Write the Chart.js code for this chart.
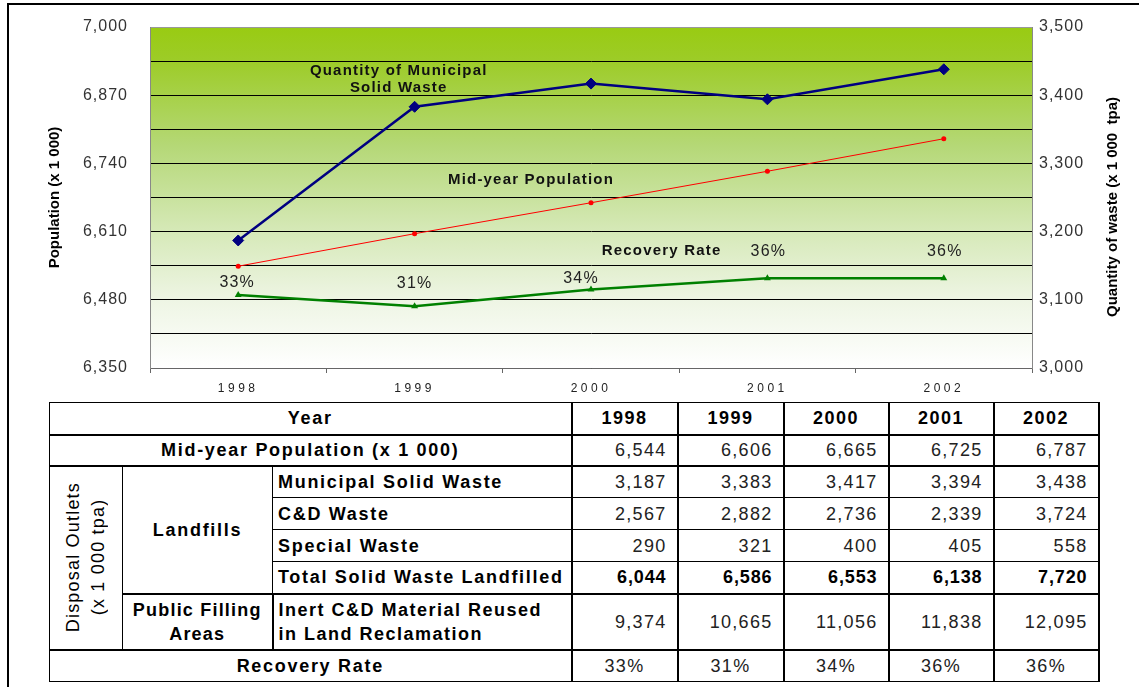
<!DOCTYPE html>
<html>
<head>
<meta charset="utf-8">
<script src="https://cdn.jsdelivr.net/npm/chart.js@4.4.1/dist/chart.umd.min.js"></script>
<style>
html,body{margin:0;padding:0;background:#fff;}
body{width:1139px;height:687px;position:relative;overflow:hidden;font-family:"Liberation Sans",Arial,sans-serif;}
#frame{position:absolute;left:7px;top:3px;width:1200px;height:800px;border-top:2px solid #000;border-left:2px solid #000;}
#chartBox{position:absolute;left:0;top:0;width:1139px;height:400px;}
#tbl{position:absolute;left:49px;top:402px;border-collapse:collapse;table-layout:fixed;width:1049px;color:#000;}
#tbl td{border:1px solid #000;padding:0;font-size:18px;letter-spacing:1.7px;line-height:20px;overflow:hidden;white-space:nowrap;}
#tbl td.b{font-weight:bold;}
#tbl td.c{text-align:center;}
#tbl td.l{text-align:left;padding-left:5px;}
#tbl td.n{text-align:right;padding-right:10px;color:#222;letter-spacing:1.3px;border-left:2px solid #000;border-right:2px solid #000;}
#tbl td.nb{font-weight:bold;color:#000;letter-spacing:0.9px;}
#tbl td.nc{text-align:center;padding-right:0;}
#tbl td.yr{text-align:center;font-weight:bold;letter-spacing:1.5px;border-left:2px solid #000;border-right:2px solid #000;}
#tbl tr.tb td{border-bottom:2px solid #000;}
#tbl td.rot div{writing-mode:vertical-rl;transform:rotate(180deg);margin:0 auto;text-align:center;line-height:25px;letter-spacing:1.2px;}
</style>
</head>
<body>
<div id="frame"></div>
<div id="chartBox"><canvas id="c"></canvas></div>
<table id="tbl">
<colgroup>
<col style="width:73px"><col style="width:150px"><col style="width:299px">
<col style="width:106px"><col style="width:106px"><col style="width:105px"><col style="width:105px"><col style="width:105px">
</colgroup>
<tbody id="tb"></tbody>
</table>
<script>
// ---------- data ----------
const years = ['1998', '1999', '2000', '2001', '2002'];
const population = [6544, 6606, 6665, 6725, 6787];
const mswQuantity = [3187, 3383, 3417, 3394, 3438];
const cdWaste = [2567, 2882, 2736, 2339, 3724];
const specialWaste = [290, 321, 400, 405, 558];
const totalLandfilled = [6044, 6586, 6553, 6138, 7720];
const inertReused = [9374, 10665, 11056, 11838, 12095];
const recoveryRate = [33, 31, 34, 36, 36];
const populationTicks = [6350, 6480, 6610, 6740, 6870, 7000];
const wasteTicks = [3000, 3100, 3200, 3300, 3400, 3500];

const fmt = v => Number(v).toLocaleString('en-US');

// ---------- table ----------
(function buildTable(){
  const nums = (arr, extra) => arr.map(v => `<td class="n${extra||''}">${fmt(v)}</td>`).join('');
  const rows = [];
  rows.push(`<tr class="tb" style="height:32px"><td colspan="3" class="b c">Year</td>${years.map(y=>`<td class="yr">${y}</td>`).join('')}</tr>`);
  rows.push(`<tr class="tb" style="height:31px"><td colspan="3" class="b c">Mid-year Population (x 1 000)</td>${nums(population)}</tr>`);
  rows.push(`<tr style="height:32px"><td rowspan="5" class="rot c" style="border-bottom:2px solid #000"><div>Disposal Outlets<br>(x 1 000 tpa)</div></td><td rowspan="4" class="b c" style="border-bottom:2px solid #000">Landfills</td><td class="b l">Municipal Solid Waste</td>${nums(mswQuantity)}</tr>`);
  rows.push(`<tr style="height:32px"><td class="b l">C&amp;D Waste</td>${nums(cdWaste)}</tr>`);
  rows.push(`<tr style="height:32px"><td class="b l">Special Waste</td>${nums(specialWaste)}</tr>`);
  rows.push(`<tr class="tb" style="height:32px"><td class="b l">Total Solid Waste Landfilled</td>${nums(totalLandfilled,' nb')}</tr>`);
  rows.push(`<tr class="tb" style="height:56px"><td class="b c" style="line-height:24px;letter-spacing:1.2px">Public Filling<br>Areas</td><td class="b l" style="line-height:24px;letter-spacing:1.5px;border-left:2px solid #000">Inert C&amp;D Material Reused<br>in Land Reclamation</td>${nums(inertReused)}</tr>`);
  rows.push(`<tr style="height:32px"><td colspan="3" class="b c">Recovery Rate</td>${recoveryRate.map(v=>`<td class="n nc">${v}%</td>`).join('')}</tr>`);
  document.getElementById('tb').innerHTML = rows.join('');
})();

// ---------- chart ----------
const FONT = '"Liberation Sans", Arial, sans-serif';

const bgPlugin = {
  id: 'plotBg',
  beforeDraw(chart){
    const {ctx, chartArea:a} = chart;
    const g = ctx.createLinearGradient(0, a.top, 0, a.bottom);
    g.addColorStop(0, '#99cb12');
    g.addColorStop(0.1, '#9dcc28');
    g.addColorStop(0.35, '#b5d877');
    g.addColorStop(0.6, '#d6e9b8');
    g.addColorStop(0.8, '#eef5e4');
    g.addColorStop(1, '#ffffff');
    ctx.save();
    ctx.fillStyle = g;
    ctx.fillRect(a.left, a.top, a.right - a.left, a.bottom - a.top);
    ctx.restore();
  }
};

// letter-spaced tick labels (Excel-like rendering)
const spacedLabels = {
  id: 'spacedLabels',
  afterLayout(chart, args, opts){
    Object.keys(opts.spacing).forEach(id => {
      const s = chart.scales[id];
      if (s && !s._spaced){
        const orig = s.drawLabels;
        const sp = opts.spacing[id];
        s.drawLabels = function(area){
          const ctx = this.ctx;
          ctx.save();
          ctx.letterSpacing = sp;
          orig.call(this, area);
          ctx.restore();
        };
        s._spaced = true;
      }
    });
  }
};

const textPlugin = {
  id: 'texts',
  afterDatasetsDraw(chart, args, opts){
    const {ctx, scales} = chart;
    ctx.save();
    // recovery rate percentage labels
    const meta = chart.getDatasetMeta(2);
    ctx.font = '16px ' + FONT;
    ctx.fillStyle = '#222';
    ctx.textAlign = 'center';
    ctx.textBaseline = 'middle';
    ctx.letterSpacing = '1.2px';
    meta.data.forEach((pt, i) => {
      const off = opts.pctOffsets[i];
      ctx.fillText(recoveryRate[i] + '%', pt.x + off[0], pt.y + off[1]);
    });
    // series name annotations (anchored in data space)
    ctx.font = 'bold 15px ' + FONT;
    ctx.fillStyle = '#111';
    ctx.letterSpacing = '1.2px';
    opts.notes.forEach(n => {
      const x0 = scales.x.getPixelForValue(0), x1 = scales.x.getPixelForValue(1);
      const x = x0 + n.xi * (x1 - x0);
      const y = scales.y.getPixelForValue(n.yv);
      n.lines.forEach((t, k) => ctx.fillText(t, x, y + (k - (n.lines.length - 1) / 2) * 17));
    });
    // right axis title (reads bottom-to-top)
    ctx.font = 'bold 15px ' + FONT;
    ctx.fillStyle = '#000';
    ctx.letterSpacing = '0px';
    ctx.translate(1113, 207);
    ctx.rotate(-Math.PI / 2);
    ctx.fillText('Quantity of waste (x 1 000  tpa)', 0, 0);
    ctx.restore();
  }
};

new Chart(document.getElementById('c'), {
  type: 'line',
  data: {
    labels: years,
    datasets: [
      {
        label: 'Quantity of Municipal Solid Waste',
        data: mswQuantity,
        yAxisID: 'y2',
        borderColor: '#000080',
        backgroundColor: '#000080',
        borderWidth: 2.5,
        pointStyle: 'rectRot',
        pointRadius: 5.5,
        pointBorderWidth: 1,
        tension: 0
      },
      {
        label: 'Mid-year Population',
        data: population,
        yAxisID: 'y',
        borderColor: '#ff0000',
        backgroundColor: '#ff0000',
        borderWidth: 1,
        pointStyle: 'circle',
        pointRadius: 2.5,
        pointBorderWidth: 0,
        tension: 0
      },
      {
        label: 'Recovery Rate',
        data: recoveryRate,
        yAxisID: 'y3',
        borderColor: '#008000',
        backgroundColor: '#008000',
        borderWidth: 2.5,
        pointStyle: 'triangle',
        pointRadius: 4,
        pointBorderWidth: 0,
        tension: 0
      }
    ]
  },
  options: {
    responsive: true,
    maintainAspectRatio: false,
    devicePixelRatio: 1,
    animation: false,
    events: [],
    layout: { padding: { top: 27, left: 0, right: 0, bottom: 0 } },
    plugins: {
      legend: { display: false },
      tooltip: { enabled: false },
      spacedLabels: { spacing: { x: '3.5px', y: '1px', y2: '1px' } },
      texts: {
        pctOffsets: [[-1, -12], [0, -23], [-10, -11], [1, -27], [1, -27]],
        notes: [
          { lines: ['Quantity of Municipal', 'Solid Waste'], xi: 0.91, yv: 6901 },
          { lines: ['Mid-year Population'], xi: 1.66, yv: 6708 },
          { lines: ['Recovery Rate'], xi: 2.40, yv: 6573 }
        ]
      }
    },
    scales: {
      x: {
        type: 'category',
        offset: true,
        grid: { offset: true, drawOnChartArea: false, drawTicks: true, tickLength: 5, color: '#666' },
        border: { display: true, color: '#666', width: 1 },
        ticks: { font: { family: FONT, size: 12 }, color: '#222', padding: 8, maxRotation: 0 },
        afterFit(s){ s.height = 32; }
      },
      y: {
        position: 'left',
        min: 6350, max: 7000,
        ticks: {
          stepSize: 65,
          padding: 22,
          font: { family: FONT, size: 16 },
          color: '#333',
          callback: v => populationTicks.includes(v) ? fmt(v) : ''
        },
        grid: {
          drawTicks: false,
          color: c => (c.tick && c.tick.value === 7000) ? '#999' : '#000',
          lineWidth: 1
        },
        border: { display: true, color: '#888', width: 1 },
        title: {
          display: true,
          text: 'Population (x 1 000)',
          font: { family: FONT, size: 15, weight: 'bold' },
          color: '#000',
          padding: { top: 46, bottom: 0 }
        },
        afterFit(s){ s.width = 150; s.paddingTop = 0; s.paddingBottom = 0; }
      },
      y2: {
        position: 'right',
        min: 3000, max: 3500,
        afterBuildTicks(s){ s.ticks = wasteTicks.map(v => ({ value: v })); },
        ticks: { padding: 7, font: { family: FONT, size: 16 }, color: '#333', callback: v => fmt(v) },
        grid: { display: false, drawTicks: false },
        border: { display: true, color: '#888', width: 1 },
        afterFit(s){ s.width = 107; s.paddingTop = 0; s.paddingBottom = 0; }
      },
      y3: {
        display: false,
        min: 20, max: 80.8
      }
    }
  },
  plugins: [bgPlugin, spacedLabels, textPlugin]
});
</script>
</body>
</html>
